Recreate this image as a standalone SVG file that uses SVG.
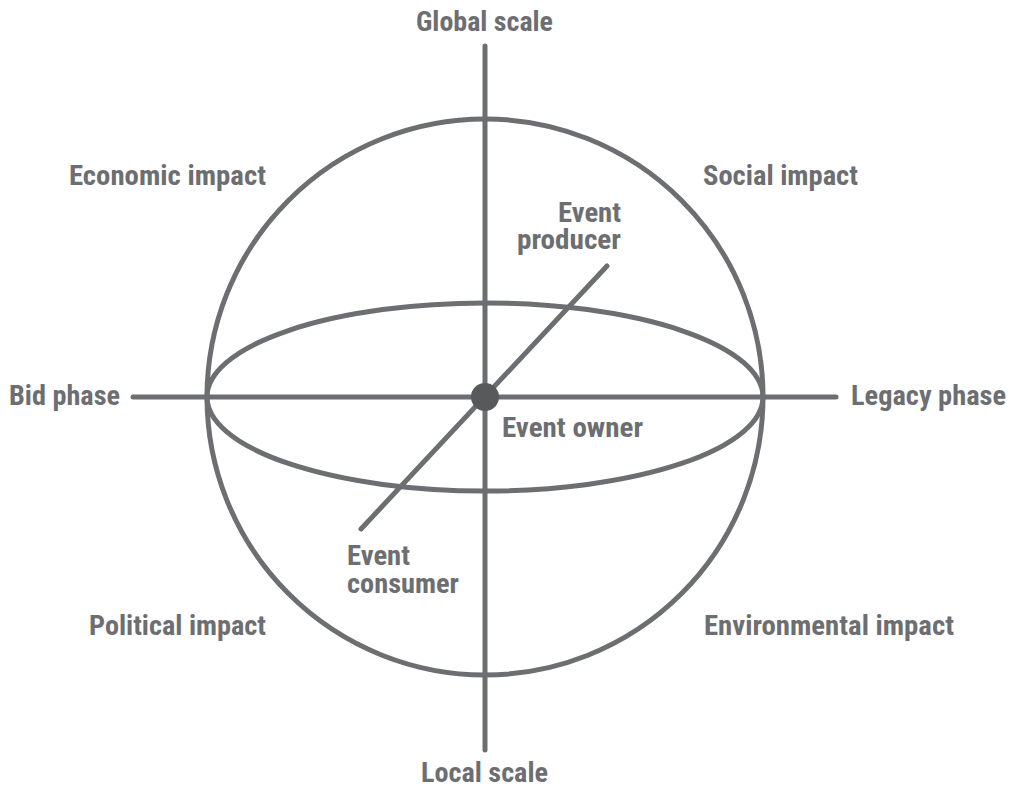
<svg xmlns="http://www.w3.org/2000/svg" width="1017" height="787" viewBox="0 0 1017 787">
<style>
.ln{stroke:#6d6e71;stroke-width:5;fill:none;stroke-linecap:round}
.t{font-family:"Liberation Sans Narrow","Roboto Condensed","Liberation Sans",Arial,sans-serif;font-weight:bold;font-size:27px;fill:#6d6e71}
</style>
<rect width="1017" height="787" fill="#ffffff"/>
<g id="connectors">
<circle class="ln" cx="485" cy="397" r="278"/>
<ellipse class="ln" cx="485" cy="397" rx="278" ry="94"/>
<line class="ln" x1="485" y1="46" x2="485" y2="750"/>
<line class="ln" x1="133" y1="397" x2="836" y2="397"/>
<line class="ln" x1="361" y1="529" x2="607" y2="266"/>
</g>
<g id="center"><circle cx="485" cy="397" r="14" fill="#58595b"/></g>
<g id="global"><text class="t" x="416" y="31" textLength="137" lengthAdjust="spacingAndGlyphs">Global scale</text></g>
<g id="local"><text class="t" x="421" y="782" textLength="127" lengthAdjust="spacingAndGlyphs">Local scale</text></g>
<g id="economic"><text class="t" x="69" y="185" textLength="197" lengthAdjust="spacingAndGlyphs">Economic impact</text></g>
<g id="social"><text class="t" x="703" y="185" textLength="155" lengthAdjust="spacingAndGlyphs">Social impact</text></g>
<g id="political"><text class="t" x="89" y="635" textLength="177" lengthAdjust="spacingAndGlyphs">Political impact</text></g>
<g id="environmental"><text class="t" x="704" y="635" textLength="250" lengthAdjust="spacingAndGlyphs">Environmental impact</text></g>
<g id="bid"><text class="t" x="9" y="405" textLength="111" lengthAdjust="spacingAndGlyphs">Bid phase</text></g>
<g id="legacy"><text class="t" x="851" y="405" textLength="155" lengthAdjust="spacingAndGlyphs">Legacy phase</text></g>
<g id="owner"><text class="t" x="502" y="437" textLength="141" lengthAdjust="spacingAndGlyphs">Event owner</text></g>
<g id="producer">
<text class="t" x="558" y="222" textLength="63" lengthAdjust="spacingAndGlyphs">Event</text>
<text class="t" x="517" y="249" textLength="104" lengthAdjust="spacingAndGlyphs">producer</text>
</g>
<g id="consumer">
<text class="t" x="347" y="565" textLength="63" lengthAdjust="spacingAndGlyphs">Event</text>
<text class="t" x="347" y="593" textLength="112" lengthAdjust="spacingAndGlyphs">consumer</text>
</g>
</svg>
